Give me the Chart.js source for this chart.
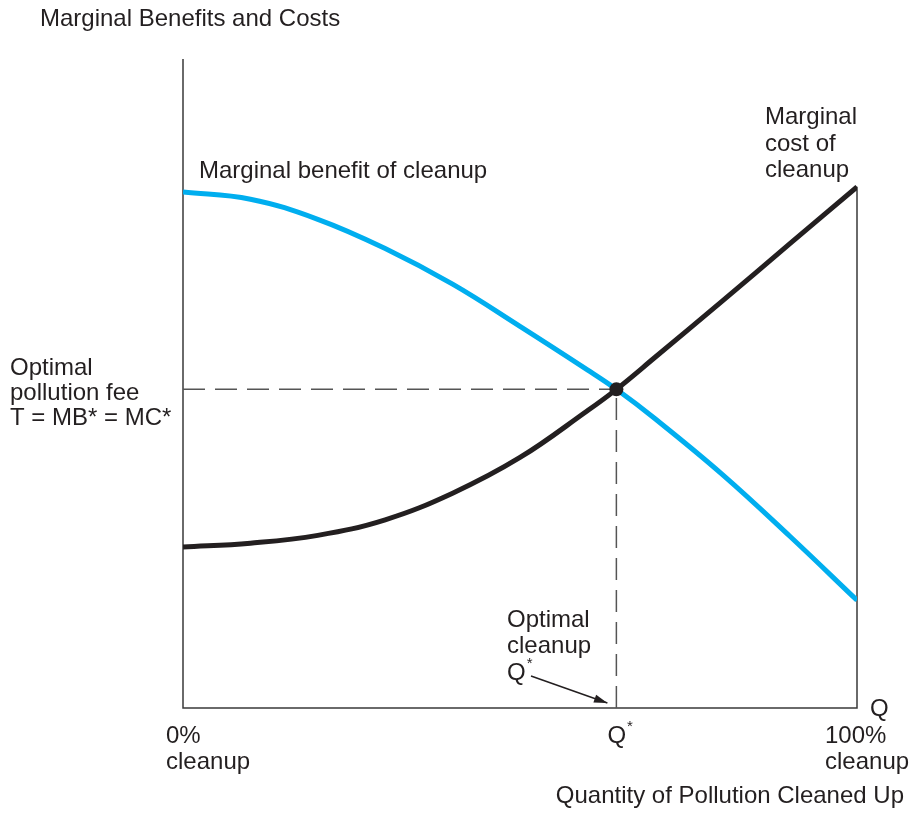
<!DOCTYPE html>
<html>
<head>
<meta charset="utf-8">
<script src="https://cdn.jsdelivr.net/npm/chart.js@4"></script>
<style>
    body { margin: 0; background: #fff; }
    #wrap { width: 909px; height: 817px; }
</style>
</head>
<body>
<div id="wrap"><canvas id="pollution-chart" width="909" height="817"></canvas></div>
<script>
// share of pollution cleaned up (%), and the two marginal curves
const cleanupPct = [0, 10, 20, 30, 40, 50, 60, 64.3, 70, 80, 90, 100]
const marginalBenefit = [79.5, 78.4, 75.3, 70.8, 65.3, 58.8, 52.1, 49.1, 44.6, 36.0, 26.5, 16.6]
const marginalCost = [24.8, 25.4, 26.6, 29.0, 33.1, 38.6, 45.8, 49.1, 54.0, 62.7, 71.5, 80.3]
const optimalQ = 64.3
const optimalFee = 49.1

const ink = '#231f20'
const font = '"Liberation Sans", Arial, Helvetica, sans-serif'

function toPoints(xs, ys) {
    let pts = []
    for (let i = 0; i < xs.length; i++) {
        pts.push({x: xs[i], y: ys[i]})
    }
    return pts
}

const labelsPlugin = {
    id: 'labels',
    afterDraw(chart) {
        const ctx = chart.ctx
        const xs = chart.scales.x
        const ys = chart.scales.y
        ctx.save()
        ctx.fillStyle = ink
        ctx.font = '24px ' + font
        ctx.textBaseline = 'alphabetic'
        ctx.textAlign = 'left'

        const lines = function (arr, x, y, step) {
            arr.forEach(function (t, i) { ctx.fillText(t, x, y + i * step) })
        }
        ctx.fillText('Marginal Benefits and Costs', 40, 26)
        ctx.fillText('Marginal benefit of cleanup', 199, 178)
        lines(['Marginal', 'cost of', 'cleanup'], 765, 124, 26.5)
        lines(['Optimal', 'pollution fee', 'T = MB* = MC*'], 10, 375, 25)
        lines(['Optimal', 'cleanup'], 507, 627, 26)

        // Q with raised star
        const qStar = function (x, y) {
            ctx.font = '24px ' + font
            ctx.fillText('Q', x, y)
            const w = ctx.measureText('Q').width
            ctx.font = '15px ' + font
            ctx.fillText('*', x + w + 1, y - 12)
            ctx.font = '24px ' + font
        }
        qStar(507, 680)
        qStar(xs.getPixelForValue(optimalQ) - 9, 743)

        ctx.fillText('Q', 870, 716)
        lines(['0%', 'cleanup'], 166, 743, 26)
        lines(['100%', 'cleanup'], 825, 743, 26)
        ctx.textAlign = 'right'
        ctx.fillText('Quantity of Pollution Cleaned Up', 904, 803)

        // arrow pointing at Q*
        const x1 = 531, y1 = 676
        const x2 = xs.getPixelForValue(optimalQ) - 9, y2 = ys.getPixelForValue(0) - 5
        ctx.strokeStyle = ink
        ctx.lineWidth = 1.5
        ctx.beginPath()
        ctx.moveTo(x1, y1)
        ctx.lineTo(x2, y2)
        ctx.stroke()
        const ang = Math.atan2(y2 - y1, x2 - x1)
        ctx.beginPath()
        ctx.moveTo(x2, y2)
        ctx.lineTo(x2 - 14 * Math.cos(ang - 0.3), y2 - 14 * Math.sin(ang - 0.3))
        ctx.lineTo(x2 - 14 * Math.cos(ang + 0.3), y2 - 14 * Math.sin(ang + 0.3))
        ctx.closePath()
        ctx.fill()
        ctx.restore()
    }
}

window.addEventListener('load', function () {
    const canvas = document.getElementById('pollution-chart')
    new Chart(canvas, {
        type: 'line',
        data: {
            datasets: [
                {
                    data: [{x: optimalQ, y: optimalFee}],
                    showLine: false,
                    pointRadius: 7,
                    pointBackgroundColor: ink,
                    pointBorderWidth: 0
                },
                {
                    data: toPoints(cleanupPct, marginalCost),
                    borderColor: ink,
                    borderWidth: 5,
                    pointRadius: 0,
                    tension: 0.4
                },
                {
                    data: toPoints(cleanupPct, marginalBenefit),
                    borderColor: '#00aeef',
                    borderWidth: 5,
                    pointRadius: 0,
                    tension: 0.4
                },
                {
                    data: [{x: 0, y: optimalFee}, {x: optimalQ, y: optimalFee}],
                    borderColor: '#555',
                    borderWidth: 1.5,
                    borderDash: [22, 10],
                    pointRadius: 0
                },
                {
                    data: [{x: optimalQ, y: 0}, {x: optimalQ, y: optimalFee}],
                    borderColor: '#555',
                    borderWidth: 1.5,
                    borderDash: [22, 10],
                    pointRadius: 0
                },
                {
                    // axes and the 100% line
                    data: [{x: 0, y: 100}, {x: 0, y: 0}, {x: 100, y: 0},
                           {x: 100, y: marginalCost[marginalCost.length - 1]}],
                    borderColor: '#3a3a3a',
                    borderWidth: 1.5,
                    pointRadius: 0,
                    tension: 0,
                    clip: false
                }
            ]
        },
        options: {
            responsive: false,
            animation: false,
            devicePixelRatio: 1,
            layout: {padding: {left: 183, top: 59, right: 52, bottom: 109}},
            plugins: {legend: {display: false}, tooltip: {enabled: false}},
            scales: {
                x: {type: 'linear', min: 0, max: 100, display: false},
                y: {min: 0, max: 100, display: false}
            }
        },
        plugins: [labelsPlugin]
    })
})
</script>
</body>
</html>
